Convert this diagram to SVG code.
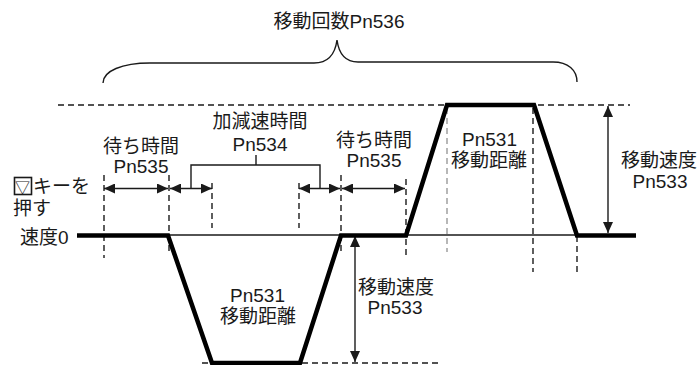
<svg xmlns="http://www.w3.org/2000/svg" width="697" height="365" viewBox="0 0 697 365">
<style>
.t{font-family:"Liberation Sans","Noto Sans CJK JP",sans-serif;font-size:19px;fill:#1a1a1a}
.m{text-anchor:middle}
.dash{stroke:#1a1a1a;stroke-width:1.4;stroke-dasharray:6 4;fill:none}
.gdash{stroke:#999;stroke-width:1.4;stroke-dasharray:6 4;fill:none}
.thin{stroke:#1a1a1a;stroke-width:1.4;fill:none}
.arr{stroke:#1a1a1a;stroke-width:1.4;fill:none;marker-start:url(#ah);marker-end:url(#ah)}
.prof{stroke:#000;stroke-width:4.5;fill:none;stroke-linejoin:miter}
</style>
<defs>
<marker id="ah" viewBox="0 0 11 10" refX="11" refY="5" markerWidth="11" markerHeight="10" markerUnits="userSpaceOnUse" orient="auto-start-reverse">
<path d="M0,0 L11,5 L0,10 Z" fill="#1a1a1a"/>
</marker>
</defs>
<rect width="697" height="365" fill="#fff"/>
<g id="connectors">
<path class="dash" d="M58,105 H630"/>
<path class="dash" d="M202,363 H442"/>
<path class="thin" d="M168,235 H580"/>
<path class="dash" d="M104,175 V258"/>
<path class="dash" d="M169,175 V254"/>
<path class="dash" d="M212,183 V228"/>
<path class="dash" d="M299,183 V228"/>
<path class="dash" d="M341,175 V255"/>
<path class="dash" d="M406,179 V256"/>
<path class="gdash" d="M447,108 V252"/>
<path class="dash" d="M533,108 V272"/>
<path class="dash" d="M577,236 V272"/>
<path class="arr" d="M104,188.5 H168"/>
<path class="arr" d="M170,188.5 H212"/>
<path class="arr" d="M299,188.5 H340"/>
<path class="arr" d="M342,188.5 H405"/>
<path class="arr" d="M355,236 V362"/>
<path class="arr" d="M608,106 V233"/>
<path class="thin" d="M191,188.5 V165 H320 V188.5 M256,165 V155"/>
<path class="thin" d="M103,83 C103,71 122,63 150,63 L314,63 C328,63 335,55 337,40 C339,55 346,62 358,62 L553,62 C568,62 577,70 577,82"/>
<path class="prof" d="M77,235.5 H168 L212,363 H300 L341,235.5 H406 L447,105 H534 L577,235.5 H636"/>
</g>
<g id="title"><text class="t m" x="339" y="28">移動回数Pn536</text></g>
<g id="key"><rect x="14.5" y="177.5" width="17" height="17" fill="none" stroke="#1a1a1a" stroke-width="1.6"/><text class="t" x="14" y="193"><tspan font-size="15" dx="1">▽</tspan><tspan x="33">キーを</tspan></text><text class="t" x="13" y="215">押す</text></g>
<g id="speed0"><text class="t" x="20" y="244">速度0</text></g>
<g id="wait1"><text class="t m" x="141" y="152.5">待ち時間</text><text class="t m" x="141" y="173">Pn535</text></g>
<g id="accel"><text class="t m" x="260" y="128">加減速時間</text><text class="t m" x="260" y="151">Pn534</text></g>
<g id="wait2"><text class="t m" x="374" y="146.5">待ち時間</text><text class="t m" x="374" y="167">Pn535</text></g>
<g id="dist-top"><text class="t m" x="489.5" y="146">Pn531</text><text class="t m" x="489" y="166.5">移動距離</text></g>
<g id="speed-right"><text class="t m" x="659" y="167">移動速度</text><text class="t m" x="660" y="187.5">Pn533</text></g>
<g id="dist-bottom"><text class="t m" x="257.5" y="302">Pn531</text><text class="t m" x="258" y="322.5">移動距離</text></g>
<g id="speed-bottom"><text class="t m" x="396" y="293.5">移動速度</text><text class="t m" x="395" y="314">Pn533</text></g>
</svg>
